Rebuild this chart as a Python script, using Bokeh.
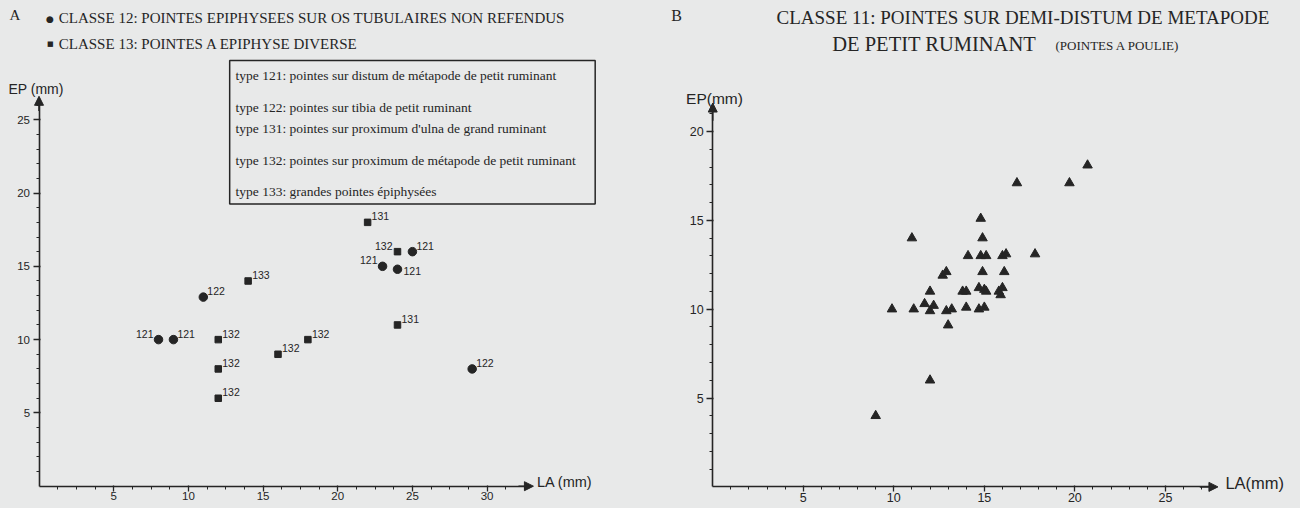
from bokeh.plotting import figure
from bokeh.layouts import row
from bokeh.models import (Label, LabelSet, BoxAnnotation, Arrow, NormalHead,
                          FixedTicker, ColumnDataSource, LinearAxis)
from bokeh.core.properties import value
from bokeh.embed import file_html
from bokeh.resources import INLINE

# ---------------- data ----------------
# Panel A : classe 12 (circles) and classe 13 (squares)
c12_la = [8, 9, 11, 23, 24, 25, 29]
c12_ep = [10, 10, 12.9, 15, 14.8, 16, 8]
c12_type = ["121", "121", "122", "121", "121", "121", "122"]

c13_la = [14, 12, 12, 12, 16, 18, 22, 24, 24]
c13_ep = [14, 10, 8, 6, 9, 10, 18, 16, 11]
c13_type = ["133", "132", "132", "132", "132", "132", "131", "132", "131"]

# Panel B : classe 11 (triangles)
c11_la = [9.9, 11.0, 11.1, 11.7, 12.0, 12.2, 12.0, 12.7, 12.9, 12.9, 13.2, 13.0,
          13.8, 14.0, 14.0, 14.1, 14.8, 14.9, 14.8, 15.1, 14.9, 14.7, 15.0, 15.1,
          14.7, 15.0, 15.8, 16.0, 15.9, 16.0, 16.2, 16.1, 16.8, 17.8, 19.7, 20.7,
          12.0, 9.0]
c11_ep = [10.0, 14.0, 10.0, 10.3, 9.9, 10.2, 11.0, 11.9, 12.1, 9.9, 10.0, 9.1,
          11.0, 11.0, 10.1, 13.0, 15.1, 14.0, 13.0, 13.0, 12.1, 11.2, 11.1, 11.0,
          10.0, 10.1, 11.0, 11.2, 10.8, 13.0, 13.1, 12.1, 17.1, 13.1, 17.1, 18.1,
          6.0, 4.0]

legend_types = [
    "type 121: pointes sur distum de métapode de petit ruminant",
    "type 122: pointes sur tibia de petit ruminant",
    "type 131: pointes sur proximum d'ulna de grand ruminant",
    "type 132: pointes sur proximum de métapode de petit ruminant",
    "type 133: grandes pointes épiphysées",
]
header_A = ["CLASSE 12: POINTES EPIPHYSEES SUR OS TUBULAIRES NON REFENDUS",
            "CLASSE 13: POINTES A EPIPHYSE DIVERSE"]
header_B = ["CLASSE 11: POINTES SUR DEMI-DISTUM DE METAPODE",
            "DE PETIT RUMINANT", "(POINTES A POULIE)"]

ticks_A_x = [5, 10, 15, 20, 25, 30]
ticks_A_y = [5, 10, 15, 20, 25]
ticks_B_x = [5, 10, 15, 20, 25]
ticks_B_y = [5, 10, 15, 20]

# label placement styles for panel A point labels
c12_side = ["ul", "ur", "ur", "ul", "r", "ur", "ur"]
c13_side = ["ur", "ur", "ur", "ur", "ur", "ur", "ur", "ul", "ur"]

# ---------------- style ----------------
INK = "#252525"
BG = "#e8e9e9"
SERIF = "Liberation Serif"
SANS = "Liberation Sans"
OFFS = {"ur": (4, 6, "left"), "ul": (-5, 6, "right"), "r": (6, -2, "left")}

# reference picture is 1316 x 524; the canvas is 1300 x 508
REF_W, REF_H = 1316, 524
W_A = W_B = 650
H = 508
REF_SPLIT = REF_W * W_A / (W_A + W_B)   # reference x where panel A ends


def make_fig(width, xr, yr):
    p = figure(width=width, height=H, x_range=xr, y_range=yr,
               output_backend="svg", toolbar_location=None,
               x_axis_location=None, y_axis_location=None,
               min_border=0, min_border_left=0, min_border_right=0,
               min_border_top=0, min_border_bottom=0,
               background_fill_color=BG, border_fill_color=BG,
               outline_line_color=None)
    p.grid.visible = False
    return p


def add_axes(p, xticks, xminor, yticks, yminor, xtip, ytip, fs):
    xa = LinearAxis(fixed_location=0)
    ya = LinearAxis(fixed_location=0)
    p.add_layout(xa, "below")
    p.add_layout(ya, "left")
    for ax in (xa, ya):
        ax.axis_line_color = INK
        ax.axis_line_width = 1.6
        ax.major_tick_line_color = INK
        ax.minor_tick_line_color = INK
        ax.major_tick_line_width = 1.3
        ax.minor_tick_line_width = 1
        ax.major_tick_in = 1
        ax.minor_tick_in = 0
        ax.minor_tick_out = 3
        ax.major_label_text_font = SANS
        ax.major_label_text_font_size = fs
        ax.major_label_text_color = INK
    xa.major_tick_out = 5
    ya.major_tick_out = 6
    xa.major_label_standoff = 1
    ya.major_label_standoff = 3
    xa.ticker = FixedTicker(ticks=xticks, minor_ticks=xminor)
    ya.ticker = FixedTicker(ticks=yticks, minor_ticks=yminor)
    xa.bounds = (0, xtip - 0.3)
    ya.bounds = (0, ytip - 0.3)
    p.add_layout(Arrow(end=NormalHead(size=9, fill_color=INK, line_color=INK, line_width=1),
                       x_start=xtip - 1.0, y_start=0, x_end=xtip, y_end=0,
                       line_color=INK, line_width=1.6))
    p.add_layout(Arrow(end=NormalHead(size=9, fill_color=INK, line_color=INK, line_width=1),
                       x_start=0, y_start=ytip - 1.0, x_end=0, y_end=ytip,
                       line_color=INK, line_width=1.6))


def lab(p, x, y, text, size, font=SERIF, align="left", baseline="middle"):
    p.add_layout(Label(x=x, y=y, text=text, text_font=font, text_font_size=size,
                       text_color=INK, text_align=align, text_baseline=baseline))


def minor(step, stop, majors):
    out, v = [], step
    while v < stop:
        if all(abs(v - m) > 1e-6 for m in majors):
            out.append(round(v, 4))
        v += step
    return out


def point_labels(p, xs, ys, texts, sides):
    for align in ("left", "right"):
        d = dict(x=[], y=[], t=[], xo=[], yo=[])
        for x, y, t, s in zip(xs, ys, texts, sides):
            xo, yo, al = OFFS[s]
            if al != align:
                continue
            d["x"].append(x); d["y"].append(y); d["t"].append(t)
            d["xo"].append(xo); d["yo"].append(yo)
        if d["x"]:
            p.add_layout(LabelSet(x="x", y="y", text="t", x_offset="xo", y_offset="yo",
                                  source=ColumnDataSource(d), text_align=align,
                                  text_baseline="middle", text_font=value(SANS),
                                  text_font_size="10.5px", text_color=INK))


# ---------------- Panel A ----------------
A_X0, A_Y0 = 39, 501           # reference pixel position of the origin
A_S = 15.12                    # reference px per mm


def ax_(px):
    return (px - A_X0) / A_S


def ay_(py):
    return (A_Y0 - py) / A_S


pA = make_fig(W_A, (ax_(0), ax_(REF_SPLIT)), (ay_(REF_H), ay_(0)))
add_axes(pA, ticks_A_x, minor(1.25, 33, ticks_A_x), ticks_A_y, minor(1, 26.5, ticks_A_y),
         33.1, 26.6, "11.5px")

pA.scatter(c12_la, c12_ep, marker="circle", size=8.5, fill_color=INK, line_color=INK)
pA.scatter(c13_la, c13_ep, marker="square", size=6.5, fill_color=INK, line_color=INK)

point_labels(pA, c12_la, c12_ep, c12_type, c12_side)
point_labels(pA, c13_la, c13_ep, c13_type, c13_side)

# header
lab(pA, ax_(9), ay_(15), "A", "15px")
lab(pA, ax_(46), ay_(19), "●", "9px", font="DejaVu Sans")
lab(pA, ax_(59), ay_(18), header_A[0], "15px")
lab(pA, ax_(47), ay_(45), "■", "7px", font="DejaVu Sans")
lab(pA, ax_(59), ay_(45), header_A[1], "15px")

# legend box
pA.add_layout(BoxAnnotation(left=ax_(232), right=ax_(602), top=ay_(62), bottom=ay_(210),
                            fill_alpha=0, line_color=INK, line_alpha=1, line_width=1.5))
for t, py in zip(legend_types, [77, 110, 132, 165, 197]):
    lab(pA, ax_(238), ay_(py), t, "13.5px")

# axis titles
lab(pA, ax_(8), ay_(91), "EP (mm)", "14px", font=SANS)
lab(pA, ax_(543), ay_(497), "LA (mm)", "14.5px", font=SANS)

# ---------------- Panel B ----------------
B_X0, B_Y0 = 721, 501.7
B_S = 18.33


def bx_(px):
    return (px - B_X0) / B_S


def by_(py):
    return (B_Y0 - py) / B_S


pB = make_fig(W_B, (bx_(REF_SPLIT), bx_(REF_W)), (by_(REF_H), by_(0)))
add_axes(pB, ticks_B_x, minor(1, 27.5, ticks_B_x), ticks_B_y, minor(1, 21.2, ticks_B_y),
         27.9, 21.6, "12.5px")

pB.scatter(c11_la, c11_ep, marker="triangle", size=9.5, fill_color=INK, line_color=INK)

lab(pB, bx_(679), by_(15), "B", "16px")
lab(pB, bx_(1035), by_(18), header_B[0], "19px", align="center")
lab(pB, bx_(842), by_(45), header_B[1], "20.5px")
lab(pB, bx_(1068), by_(46), header_B[2], "13px")

lab(pB, bx_(694), by_(101), "EP(mm)", "15.5px", font=SANS)
lab(pB, bx_(1240), by_(498), "LA(mm)", "16.5px", font=SANS)

layout = row(pA, pB, spacing=0, styles={"background-color": BG})
open("out.html", "w").write(file_html(layout, INLINE))
